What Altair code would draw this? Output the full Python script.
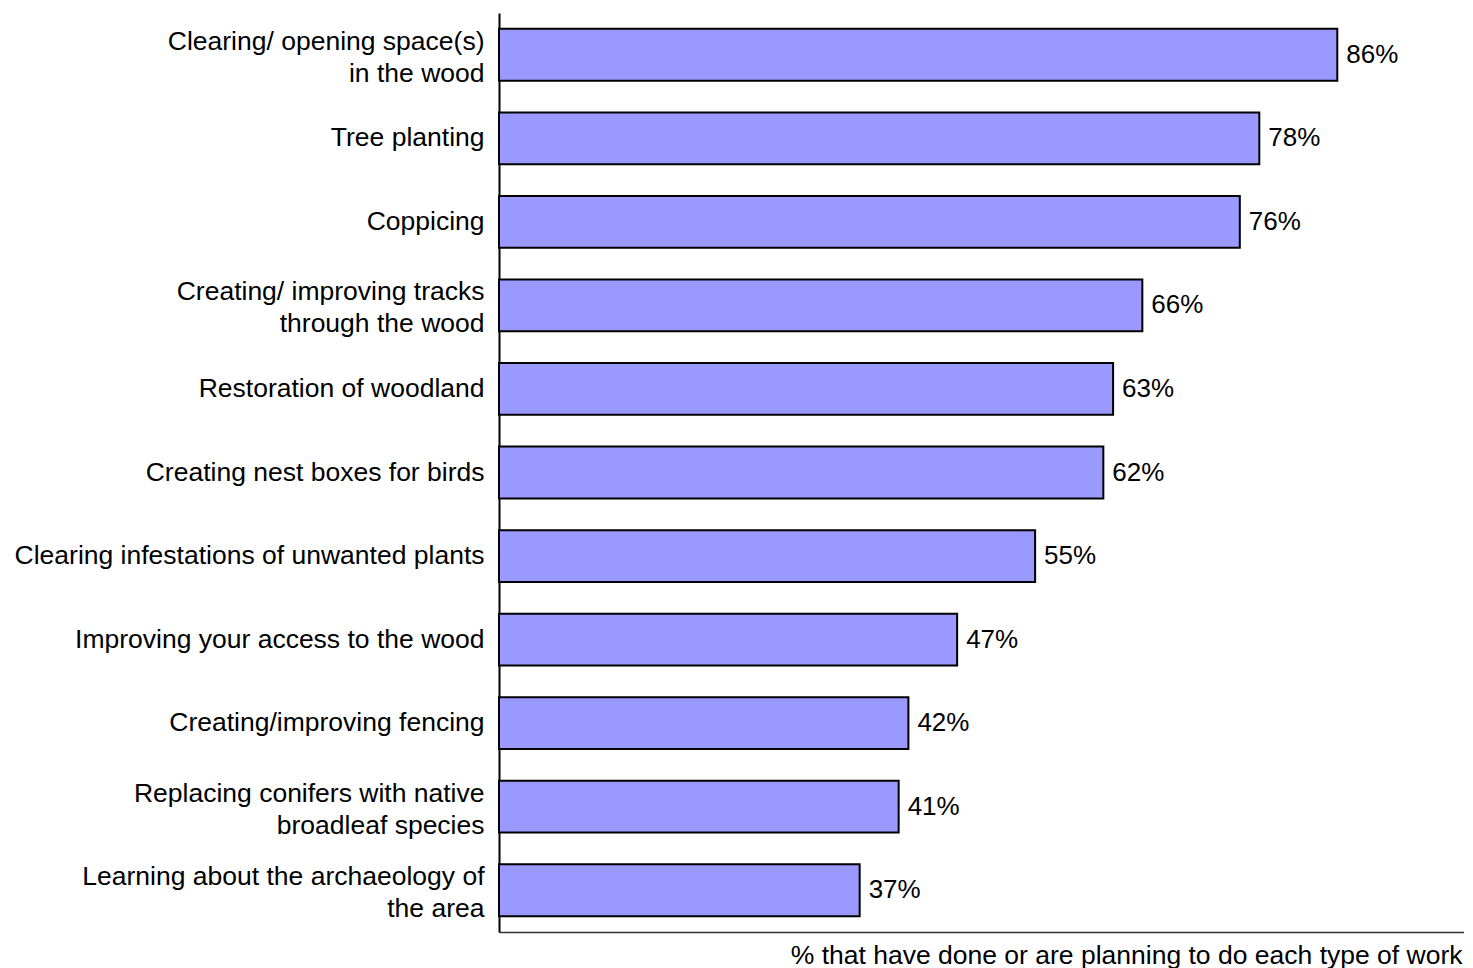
import altair as alt
import pandas as pd

categories = [
    "Clearing/ opening space(s)|in the wood",
    "Tree planting",
    "Coppicing",
    "Creating/ improving tracks|through the wood",
    "Restoration of woodland",
    "Creating nest boxes for birds",
    "Clearing infestations of unwanted plants",
    "Improving your access to the wood",
    "Creating/improving fencing",
    "Replacing conifers with native|broadleaf species",
    "Learning about the archaeology of|the area",
]
values = [86, 78, 76, 66, 63, 62, 55, 47, 42, 41, 37]
value_labels = [f"{v}%" for v in values]

df = pd.DataFrame({"cat": categories, "val": values, "lab": value_labels})

FONT = "Liberation Sans"

y = alt.Y(
    "cat:N",
    sort=categories,
    scale=alt.Scale(paddingInner=0.38, paddingOuter=0.19),
    axis=alt.Axis(
        title=None,
        ticks=False,
        grid=False,
        labelPadding=15,
        labelFontSize=26.5,
        labelFont=FONT,
        labelColor="black",
        labelLineHeight=32,
        labelLimit=600,
        labelExpr="split(datum.value, '|')",
        labelOffset={"condition": {"test": "indexof(datum.value, '|') >= 0", "value": -13}, "value": 0},
        domainColor="black",
        domainWidth=2,
    ),
)

x = alt.X(
    "val:Q",
    scale=alt.Scale(domain=[0, 99], nice=False, zero=True),
    axis=alt.Axis(
        title="% that have done or are planning to do each type of work",
        titleFont=FONT,
        titleFontSize=26.5,
        titleFontWeight="normal",
        titleColor="black",
        titleAnchor="end",
        titleAlign="right",
        titleX=963,
        titlePadding=10,
        labels=False,
        ticks=False,
        grid=False,
        domainColor="#333333",
        domainWidth=1.5,
    ),
)

bars = alt.Chart(df).mark_bar(
    color="#9999FF", stroke="black", strokeWidth=2
).encode(x=x, y=y)

text = alt.Chart(df).mark_text(
    align="left", baseline="middle", dx=9, fontSize=26, font=FONT, color="black"
).encode(
    x=alt.X("val:Q"),
    y=alt.Y("cat:N", sort=categories),
    text="lab:N",
)

chart = (
    alt.layer(bars, text)
    .properties(
        width=965,
        height=919,
        autosize=alt.AutoSizeParams(type="none"),
        padding={"left": 491, "top": 5, "right": 0, "bottom": 36},
    )
    .configure(background="white")
    .configure_view(stroke=None, strokeWidth=0)
    .configure_axis(grid=False)
)

chart.save("out.html", embed_options={"renderer": "svg", "actions": False})
